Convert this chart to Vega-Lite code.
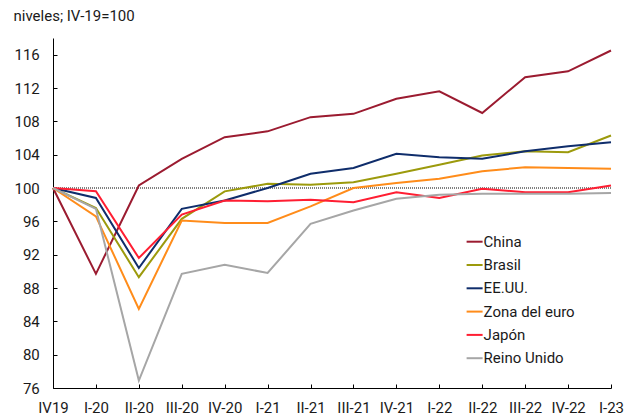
{
  "$schema": "https://vega.github.io/schema/vega-lite/v6.json",
  "width": 558,
  "height": 350,
  "autosize": {"type": "none"},
  "padding": {"left": 53, "top": 38, "right": 26, "bottom": 28},
  "background": "white",
  "config": {
    "view": {"stroke": null},
    "font": "Roboto",
    "axis": {"grid": false, "domainColor": "#000000", "tickColor": "#000000", "labelColor": "#1a1a1a", "labelFontSize": 15, "labelFont": "Roboto", "domainWidth": 1, "tickWidth": 1, "labelOverlap": false}
  },
  "data": {"values": [
    {"q":"IV19","p":"China","v":100},{"q":"I-20","p":"China","v":89.7},{"q":"II-20","p":"China","v":100.3},{"q":"III-20","p":"China","v":103.5},{"q":"IV-20","p":"China","v":106.1},{"q":"I-21","p":"China","v":106.8},{"q":"II-21","p":"China","v":108.5},{"q":"III-21","p":"China","v":108.9},{"q":"IV-21","p":"China","v":110.7},{"q":"I-22","p":"China","v":111.6},{"q":"II-22","p":"China","v":109.0},{"q":"III-22","p":"China","v":113.3},{"q":"IV-22","p":"China","v":114.0},{"q":"I-23","p":"China","v":116.5},
    {"q":"IV19","p":"Brasil","v":100},{"q":"I-20","p":"Brasil","v":97.6},{"q":"II-20","p":"Brasil","v":89.3},{"q":"III-20","p":"Brasil","v":96.3},{"q":"IV-20","p":"Brasil","v":99.6},{"q":"I-21","p":"Brasil","v":100.5},{"q":"II-21","p":"Brasil","v":100.4},{"q":"III-21","p":"Brasil","v":100.7},{"q":"IV-21","p":"Brasil","v":101.7},{"q":"I-22","p":"Brasil","v":102.8},{"q":"II-22","p":"Brasil","v":103.9},{"q":"III-22","p":"Brasil","v":104.4},{"q":"IV-22","p":"Brasil","v":104.3},{"q":"I-23","p":"Brasil","v":106.3},
    {"q":"IV19","p":"EE.UU.","v":100},{"q":"I-20","p":"EE.UU.","v":98.8},{"q":"II-20","p":"EE.UU.","v":90.4},{"q":"III-20","p":"EE.UU.","v":97.5},{"q":"IV-20","p":"EE.UU.","v":98.5},{"q":"I-21","p":"EE.UU.","v":100.0},{"q":"II-21","p":"EE.UU.","v":101.7},{"q":"III-21","p":"EE.UU.","v":102.4},{"q":"IV-21","p":"EE.UU.","v":104.1},{"q":"I-22","p":"EE.UU.","v":103.7},{"q":"II-22","p":"EE.UU.","v":103.5},{"q":"III-22","p":"EE.UU.","v":104.4},{"q":"IV-22","p":"EE.UU.","v":105.0},{"q":"I-23","p":"EE.UU.","v":105.5},
    {"q":"IV19","p":"Zona del euro","v":100},{"q":"I-20","p":"Zona del euro","v":96.6},{"q":"II-20","p":"Zona del euro","v":85.5},{"q":"III-20","p":"Zona del euro","v":96.1},{"q":"IV-20","p":"Zona del euro","v":95.8},{"q":"I-21","p":"Zona del euro","v":95.8},{"q":"II-21","p":"Zona del euro","v":97.8},{"q":"III-21","p":"Zona del euro","v":100.0},{"q":"IV-21","p":"Zona del euro","v":100.6},{"q":"I-22","p":"Zona del euro","v":101.1},{"q":"II-22","p":"Zona del euro","v":102.0},{"q":"III-22","p":"Zona del euro","v":102.5},{"q":"IV-22","p":"Zona del euro","v":102.4},{"q":"I-23","p":"Zona del euro","v":102.3},
    {"q":"IV19","p":"Japón","v":100},{"q":"I-20","p":"Japón","v":99.6},{"q":"II-20","p":"Japón","v":91.6},{"q":"III-20","p":"Japón","v":96.8},{"q":"IV-20","p":"Japón","v":98.5},{"q":"I-21","p":"Japón","v":98.4},{"q":"II-21","p":"Japón","v":98.6},{"q":"III-21","p":"Japón","v":98.3},{"q":"IV-21","p":"Japón","v":99.5},{"q":"I-22","p":"Japón","v":98.8},{"q":"II-22","p":"Japón","v":99.9},{"q":"III-22","p":"Japón","v":99.5},{"q":"IV-22","p":"Japón","v":99.5},{"q":"I-23","p":"Japón","v":100.3},
    {"q":"IV19","p":"Reino Unido","v":100},{"q":"I-20","p":"Reino Unido","v":97.5},{"q":"II-20","p":"Reino Unido","v":76.9},{"q":"III-20","p":"Reino Unido","v":89.7},{"q":"IV-20","p":"Reino Unido","v":90.8},{"q":"I-21","p":"Reino Unido","v":89.8},{"q":"II-21","p":"Reino Unido","v":95.7},{"q":"III-21","p":"Reino Unido","v":97.3},{"q":"IV-21","p":"Reino Unido","v":98.7},{"q":"I-22","p":"Reino Unido","v":99.2},{"q":"II-22","p":"Reino Unido","v":99.3},{"q":"III-22","p":"Reino Unido","v":99.3},{"q":"IV-22","p":"Reino Unido","v":99.3},{"q":"I-23","p":"Reino Unido","v":99.4}
  ]},
  "encoding": {
    "y": {
      "field": "v", "type": "quantitative",
      "scale": {"domain": [76, 118], "nice": false, "zero": false},
      "axis": {
        "values": [76, 80, 84, 88, 92, 96, 100, 104, 108, 112, 116],
        "labelOverlap": false, "labelSeparation": 0, "labelBound": false,
        "tickSize": -4, "labelPadding": 17.7,
        "title": "niveles; IV-19=100", "titleAngle": 0, "titleAlign": "left", "titleBaseline": "alphabetic",
        "titleX": -40, "titleY": -18, "titleFontSize": 15, "titleFontWeight": "normal", "titleColor": "#1a1a1a", "titleFont": "Roboto"
      }
    }
  },
  "layer": [
    {
      "mark": {"type": "rule", "stroke": "#808080", "strokeDash": [1, 1], "strokeWidth": 1},
      "encoding": {"y": {"datum": 100, "type": "quantitative", "axis": {"values": [76, 80, 84, 88, 92, 96, 100, 104, 108, 112, 116], "labelOverlap": false}}}
    },
    {
      "mark": {"type": "line", "strokeWidth": 2},
      "encoding": {
        "x": {
          "field": "q", "type": "ordinal",
          "sort": ["IV19","I-20","II-20","III-20","IV-20","I-21","II-21","III-21","IV-21","I-22","II-22","III-22","IV-22","I-23"],
          "scale": {"type": "point", "padding": 0},
          "axis": {"title": null, "labelAngle": 0, "tickSize": -4, "labelPadding": 16, "labelBaseline": "top", "labelOverlap": false}
        },
        "color": {
          "field": "p", "type": "nominal",
          "scale": {
            "domain": ["China", "Brasil", "EE.UU.", "Zona del euro", "Japón", "Reino Unido"],
            "range": ["#9b1b30", "#9c9a0c", "#0f2d6b", "#ff8c1a", "#ff1e32", "#a6a6a6"]
          },
          "legend": {
            "orient": "none", "legendX": 412.6, "legendY": 194.7, "title": null, "padding": 0,
            "symbolType": "stroke", "symbolSize": 256, "symbolStrokeWidth": 2,
            "labelFontSize": 15, "labelFont": "Roboto", "labelColor": "#1a1a1a", "labelOffset": 0, "rowPadding": 6.3
          }
        }
      }
    }
  ]
}
